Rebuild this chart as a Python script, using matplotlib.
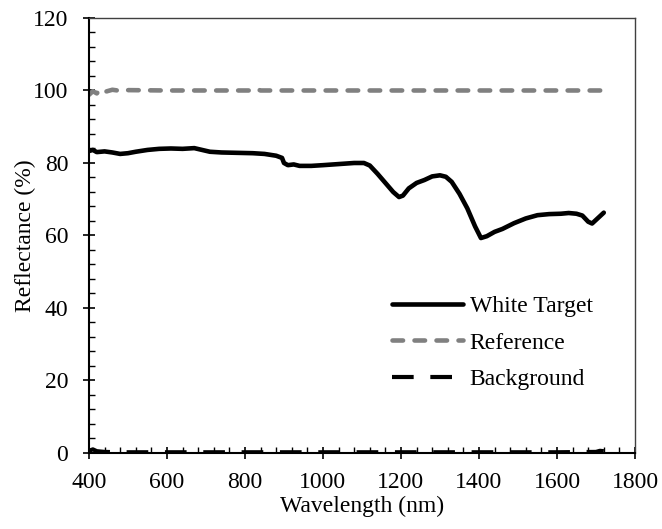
import numpy as np
import matplotlib
matplotlib.use('Agg')
import matplotlib.pyplot as plt
from matplotlib.ticker import MultipleLocator

# reflectance spectra (wavelength in nm, reflectance in %)
wl_white = [400, 410, 420, 440, 460, 480, 500, 520, 550, 580, 610, 640, 670, 690,
            710, 740, 780, 820, 850, 880, 895, 900, 910, 925, 940, 970, 1000, 1040,
            1080, 1105, 1120, 1140, 1160, 1180, 1195, 1205, 1220, 1240, 1260, 1280,
            1300, 1315, 1330, 1350, 1370, 1390, 1405, 1420, 1440, 1460, 1490, 1520,
            1550, 1580, 1610, 1630, 1650, 1665, 1680, 1690, 1700, 1720]
refl_white = [83.3, 83.6, 83.0, 83.2, 82.9, 82.5, 82.7, 83.1, 83.6, 83.9, 84.0, 83.9,
              84.1, 83.6, 83.1, 82.9, 82.8, 82.7, 82.5, 82.0, 81.4, 80.0, 79.4, 79.6,
              79.2, 79.2, 79.4, 79.7, 80.0, 80.0, 79.3, 77.0, 74.5, 72.0, 70.6, 71.0,
              73.0, 74.5, 75.3, 76.3, 76.6, 76.2, 74.8, 71.5, 67.5, 62.5, 59.3, 59.8,
              61.0, 61.8, 63.4, 64.7, 65.6, 65.9, 66.0, 66.2, 66.0, 65.5, 63.8, 63.3,
              64.3, 66.3]

wl_ref = [400, 410, 420, 430, 440, 460, 480, 500, 600, 700, 820, 830, 840, 1000,
          1200, 1400, 1600, 1720]
refl_ref = [98.8, 99.8, 99.2, 100.3, 99.6, 100.2, 99.9, 100.1, 100.0, 100.0, 100.0,
            100.4, 100.0, 100.0, 100.0, 100.0, 100.0, 100.0]

wl_bg = [400, 410, 420, 440, 480, 600, 800, 1000, 1200, 1400, 1600, 1700, 1710, 1720]
refl_bg = [0.6, 1.0, 0.5, 0.3, 0.2, 0.2, 0.2, 0.2, 0.2, 0.2, 0.2, 0.3, 0.6, 0.5]

plt.rcParams['font.family'] = 'Liberation Serif'
plt.rcParams['font.size'] = 17

fig = plt.figure(figsize=(6.62, 5.29), dpi=100)
ax = fig.add_axes([0.1344, 0.1437, 0.8248, 0.8223])

ax.plot(wl_white, refl_white, color='black', lw=3.3, solid_capstyle='round',
        solid_joinstyle='round', label='White Target')
ax.plot(wl_ref, refl_ref, color='#808080', lw=3.3, linestyle=(0, (2.3, 2.5)),
        dash_capstyle='round', label='Reference')
ax.plot(wl_bg, refl_bg, color='black', lw=3.0, linestyle=(0, (5.2, 4.0)),
        dash_capstyle='butt', label='Background')

ax.set_xlim(400, 1800)
ax.set_ylim(0, 120)
ax.xaxis.set_major_locator(MultipleLocator(200))
ax.xaxis.set_minor_locator(MultipleLocator(40))
ax.yaxis.set_major_locator(MultipleLocator(20))
ax.yaxis.set_minor_locator(MultipleLocator(4))
ax.tick_params(which='major', direction='inout', length=8, width=1.2,
               top=False, right=False)
ax.tick_params(which='minor', direction='in', length=4, width=1.0,
               top=False, right=False)
ax.tick_params(axis='x', which='major', pad=10)
ax.tick_params(axis='y', which='major', pad=11)

for side in ['left', 'bottom']:
    ax.spines[side].set_linewidth(1.5)
    ax.spines[side].set_color('black')
for side in ['top', 'right']:
    ax.spines[side].set_linewidth(1.0)
    ax.spines[side].set_color('#404040')

ax.set_xlabel('Wavelength (nm)', labelpad=2)
ax.set_ylabel('Reflectance (%)', labelpad=-2.5)

ax.legend(loc='center left', bbox_to_anchor=(0.533, 0.253), frameon=False,
          borderpad=0, handlelength=3.0, handletextpad=0.3, labelspacing=0.63)

fig.savefig('out.png', dpi=100)
